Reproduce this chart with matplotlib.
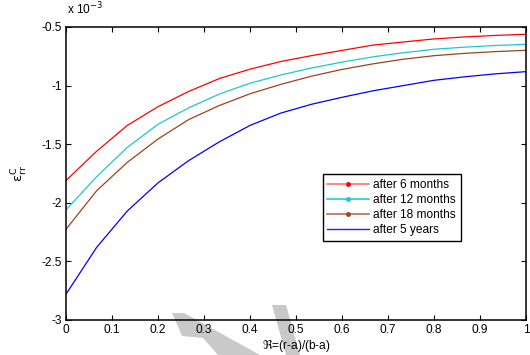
import matplotlib
matplotlib.use("Agg")
import matplotlib.pyplot as plt
from matplotlib.lines import Line2D
from matplotlib.patches import Polygon
from matplotlib.ticker import FormatStrFormatter

plt.rcParams["font.family"] = ["Liberation Sans", "DejaVu Sans"]
plt.rcParams["axes.unicode_minus"] = False
plt.rcParams["mathtext.fontset"] = "dejavusans"

# Normalised radius and creep strain (units of 1e-3)
r_norm = [0.0, 0.0667, 0.1333, 0.2, 0.2667, 0.3333, 0.4, 0.4667,
          0.5333, 0.6, 0.6667, 0.7333, 0.8, 0.8667, 0.9333, 1.0]
strain_6m = [-1.81, -1.56, -1.34, -1.18, -1.05, -0.94, -0.86, -0.795,
             -0.745, -0.70, -0.655, -0.628, -0.602, -0.585, -0.572, -0.562]
strain_12m = [-2.06, -1.777, -1.527, -1.33, -1.19, -1.072, -0.98, -0.91,
              -0.85, -0.80, -0.755, -0.72, -0.69, -0.672, -0.658, -0.648]
strain_18m = [-2.226, -1.897, -1.655, -1.456, -1.29, -1.17, -1.07, -0.99,
              -0.92, -0.862, -0.815, -0.775, -0.745, -0.725, -0.71, -0.699]
strain_5y = [-2.78, -2.38, -2.07, -1.83, -1.64, -1.48, -1.34, -1.235,
             -1.16, -1.10, -1.045, -1.0, -0.955, -0.925, -0.90, -0.881]

labels = ["after 6 months", "after 12 months", "after 18 months", "after 5 years"]
colors = ["#ff0000", "#1ec8c8", "#a0421c", "#0000ff"]
legend_line_colors = ["#ff7070", "#30c8c8", "#b87050", "#2020ff"]

x_ticks = [0, 0.1, 0.2, 0.3, 0.4, 0.5, 0.6, 0.7, 0.8, 0.9, 1]
y_ticks = [-3, -2.5, -2, -1.5, -1, -0.5]

fs = 8.6
fig = plt.figure(figsize=(5.30, 3.55), dpi=100)
fig.patch.set_facecolor("white")
ax = fig.add_axes([0.1245, 0.0986, 0.868, 0.8254])
ax.patch.set_alpha(0)

for ys, c in zip([strain_6m, strain_12m, strain_18m, strain_5y], colors):
    ax.plot(r_norm, ys, color=c, lw=0.9)

ax.set_xlim(0, 1)
ax.set_ylim(-3, -0.5)
ax.set_xticks(x_ticks)
ax.set_yticks(y_ticks)
ax.xaxis.set_major_formatter(FormatStrFormatter("%g"))
ax.yaxis.set_major_formatter(FormatStrFormatter("%g"))
ax.tick_params(direction="in", length=3.5, width=0.8, top=True, right=True,
               labelsize=fs, pad=3)
for s in ax.spines.values():
    s.set_linewidth(1.1)

ax.set_xlabel(r"$\Re$=(r-a)/(b-a)", fontsize=fs, labelpad=1)
ax.set_ylabel(r"$\mathrm{\epsilon_{rr}^{C}}$", fontsize=fs + 1, labelpad=8)

fig.text(0.126, 0.950, r"x 10$^{-3}$", fontsize=fs, ha="left", va="bottom")

handles = []
for i, (c, lc) in enumerate(zip(colors, legend_line_colors)):
    if i < 3:
        handles.append(Line2D([], [], color=lc, lw=1.2, marker="o", markersize=2.5,
                              markerfacecolor=c, markeredgecolor=c))
    else:
        handles.append(Line2D([], [], color=lc, lw=1.0))
leg = ax.legend(handles, labels, loc="upper left", bbox_to_anchor=(0.558, 0.497),
                fontsize=fs, handlelength=3.5, handletextpad=0.35,
                labelspacing=0.25, borderpad=0.4, borderaxespad=0,
                fancybox=False, framealpha=1, edgecolor="black")
leg.get_frame().set_linewidth(1.0)

# light grey watermark strokes behind the axes
W, H = 530.0, 355.0
def px(pts):
    return [(x / W, 1 - y / H) for x, y in pts]

grey = "#c9c9c9"
fig.patches.append(Polygon(px([(172, 313), (184, 313), (260, 355), (218, 355),
                               (203, 338), (182, 336)]),
                           closed=True, transform=fig.transFigure,
                           facecolor=grey, edgecolor="none", zorder=-1))
fig.patches.append(Polygon(px([(272, 305), (286, 305), (300, 355), (286, 355)]),
                           closed=True, transform=fig.transFigure,
                           facecolor=grey, edgecolor="none", zorder=-1))

fig.savefig("out.png", dpi=100)
